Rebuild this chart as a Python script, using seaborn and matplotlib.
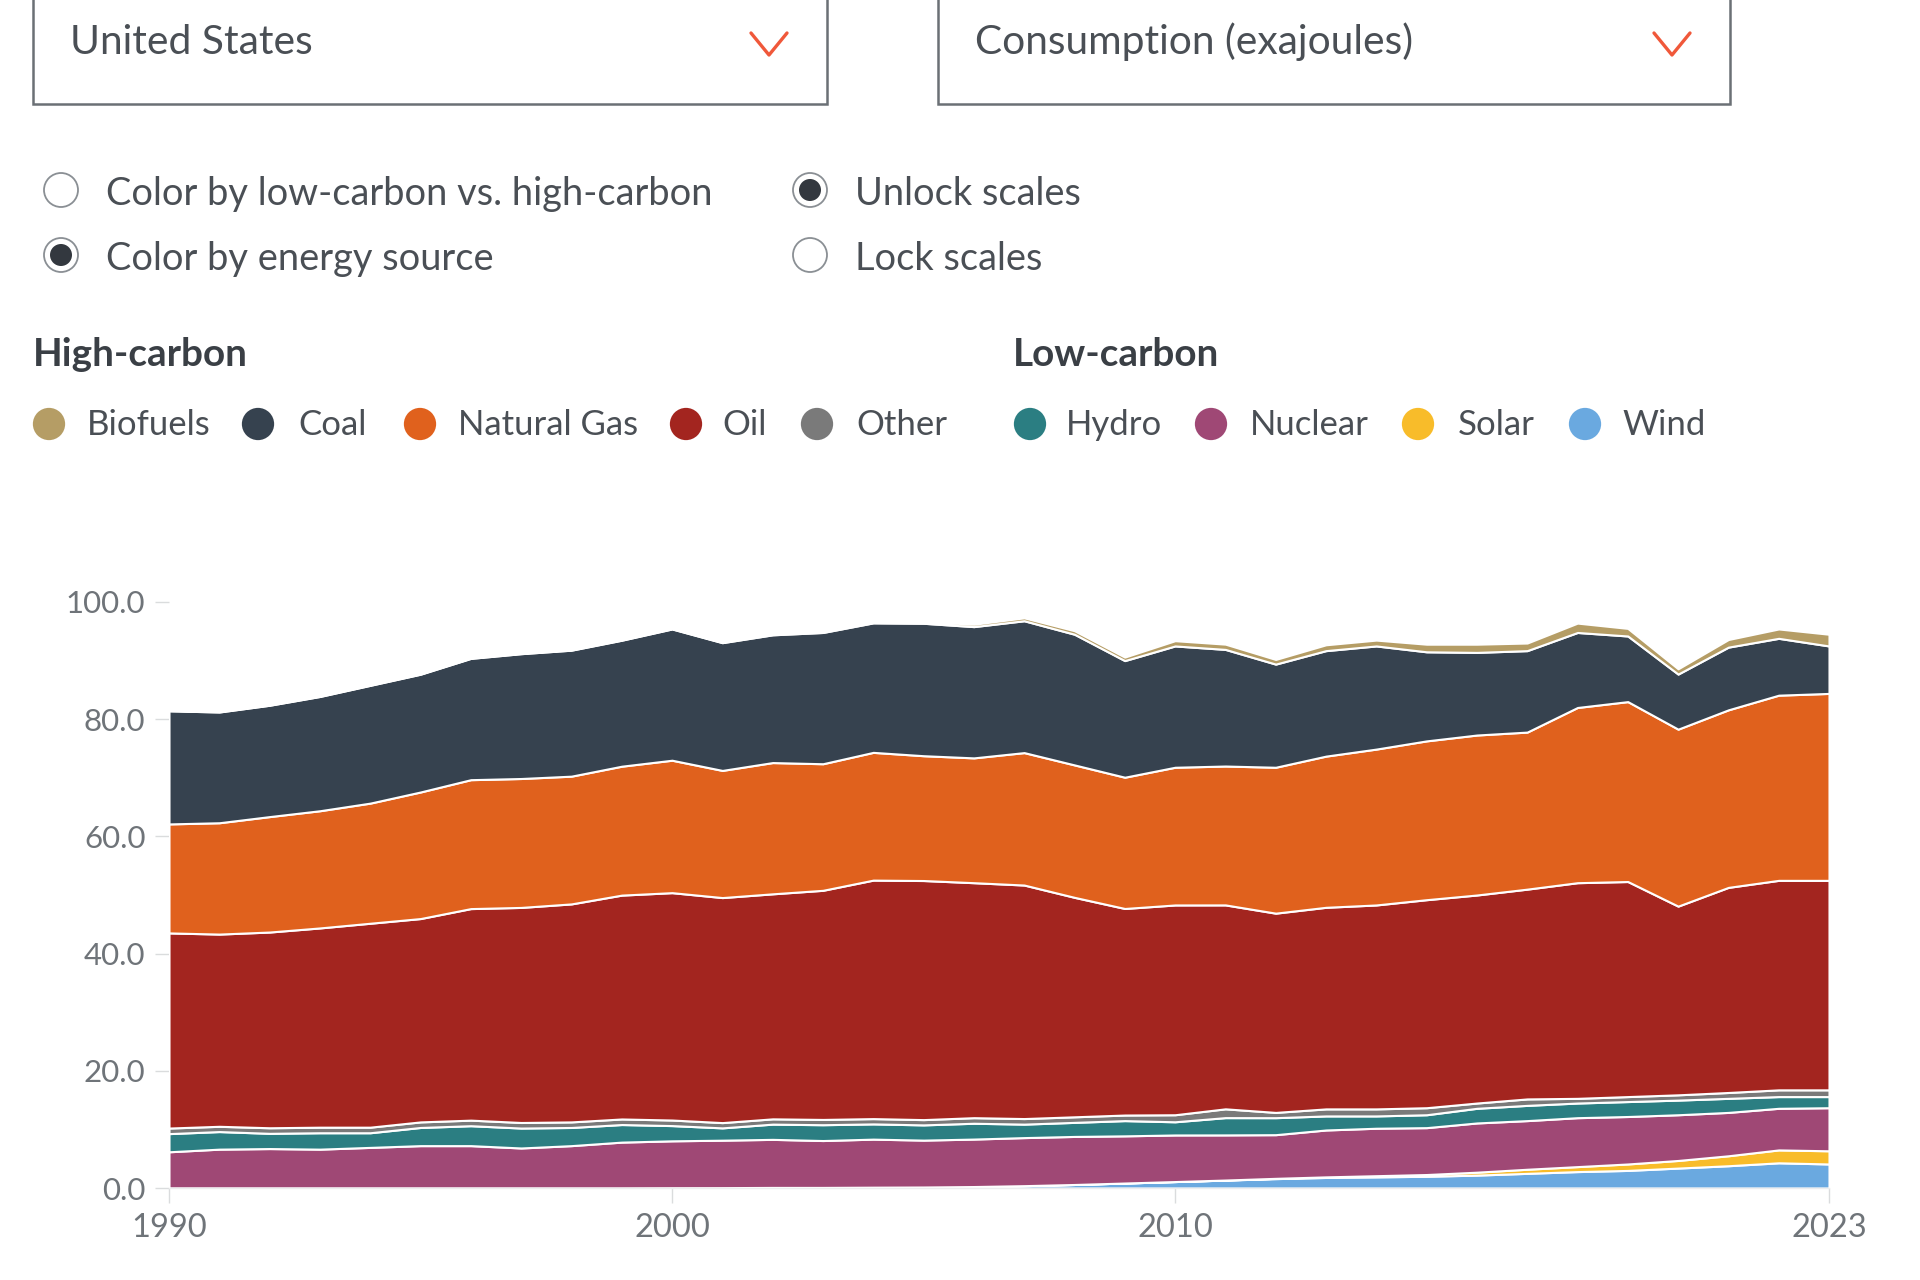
"""US energy consumption by source, stacked area with the dashboard controls above it."""

import matplotlib

matplotlib.use("Agg")

import matplotlib.pyplot as plt
import numpy as np
import seaborn as sns
from matplotlib.patches import Circle

YEARS = list(range(1990, 2024))

# Values in exajoules. Order is bottom of the stack first.
WIND = [0.03] * 10 + [0.05, 0.06, 0.1, 0.1, 0.14, 0.17, 0.25, 0.4, 0.6, 0.85,
                      1.1, 1.35, 1.6, 1.8, 1.9, 2.0, 2.2, 2.5, 2.8, 3.0, 3.4, 3.8, 4.3, 4.1]
SOLAR = [0.0] * 21 + [0.01, 0.05, 0.1, 0.2, 0.3, 0.5, 0.7, 0.85, 1.1, 1.3, 1.7, 2.2, 2.25]
NUCLEAR = [6.15, 6.6, 6.7, 6.6, 6.9, 7.2, 7.2, 6.8, 7.2, 7.8, 8.0, 8.1, 8.2, 8.0, 8.2, 8.0, 8.1,
           8.2, 8.2, 8.05, 7.95, 7.7, 7.45, 8.0, 8.1, 8.0, 8.4, 8.3, 8.35, 8.1, 7.8, 7.4, 7.1, 7.35]
HYDRO = [3.1, 3.0, 2.6, 2.8, 2.5, 3.1, 3.4, 3.4, 3.1, 3.0, 2.6, 2.1, 2.6, 2.7, 2.6, 2.6, 2.7,
         2.3, 2.4, 2.6, 2.25, 2.95, 2.9, 2.4, 2.1, 2.2, 2.5, 2.6, 2.5, 2.55, 2.5, 2.4, 2.0, 1.9]
OTHER = [0.95, 0.9, 0.95, 0.95, 0.95, 0.95, 0.95, 0.95, 0.95, 0.95, 0.95, 0.9, 0.9, 0.9, 0.9, 0.9,
         0.95, 0.95, 0.95, 0.95, 1.2, 1.5, 0.9, 1.2, 1.2, 1.2, 0.9, 1.1, 0.8, 0.85, 0.9, 1.0, 1.15, 1.15]
OIL = [33.3, 32.8, 33.4, 34.0, 34.8, 34.7, 36.1, 36.7, 37.2, 38.2, 38.8, 38.4, 38.4, 39.1, 40.7,
       40.8, 40.1, 39.85, 37.45, 35.25, 35.8, 34.8, 34.0, 34.4, 34.8, 35.5, 35.5, 35.8, 36.8, 36.7,
       32.2, 35.0, 35.75, 35.75]
NATURAL_GAS = [18.6, 19.0, 19.7, 20.0, 20.5, 21.6, 22.0, 22.0, 21.8, 22.0, 22.6, 21.7, 22.4, 21.6,
               21.8, 21.3, 21.3, 22.6, 22.6, 22.4, 23.5, 23.7, 24.9, 25.8, 26.6, 27.1, 27.3, 26.8,
               29.9, 30.7, 30.2, 30.3, 31.6, 31.9]
COAL = [19.3, 18.9, 19.0, 19.5, 20.1, 20.1, 20.7, 21.3, 21.5, 21.5, 22.4, 21.8, 21.8, 22.4, 22.1,
        22.6, 22.4, 22.5, 22.3, 19.9, 20.7, 19.9, 17.6, 18.0, 17.6, 15.2, 14.1, 13.9, 12.8, 11.2,
        9.4, 10.7, 9.7, 8.1]
BIOFUELS = [0.1] * 12 + [0.15, 0.2, 0.25, 0.3, 0.4, 0.5, 0.6, 0.6, 0.9, 0.9, 0.8, 1.0, 1.0, 1.3,
                         1.4, 1.3, 1.6, 1.3, 0.9, 1.3, 1.6, 2.0]

STACK = [WIND, SOLAR, NUCLEAR, HYDRO, OTHER, OIL, NATURAL_GAS, COAL, BIOFUELS]
STACK_COLORS = ["#6AA9E0", "#F8BC2A", "#9F4875", "#2B7E82", "#7A7A7A",
                "#A3251F", "#E0611D", "#36424F", "#B59D65"]

HIGH_CARBON = ["Biofuels", "Coal", "Natural Gas", "Oil", "Other"]
LOW_CARBON = ["Hydro", "Nuclear", "Solar", "Wind"]
SOURCE_COLORS = {
    "Biofuels": "#B59D65", "Coal": "#36424F", "Natural Gas": "#E0611D", "Oil": "#A3251F",
    "Other": "#7A7A7A", "Hydro": "#2B7E82", "Nuclear": "#9F4875", "Solar": "#F8BC2A",
    "Wind": "#6AA9E0",
}
DOT_X = [49, 258, 420, 686, 817, 1030, 1211, 1418, 1585]
LABEL_X = [87, 298, 458, 722, 856, 1066, 1250, 1458, 1622]

Y_TICKS = [0, 20, 40, 60, 80, 100]
X_TICKS = [1990, 2000, 2010, 2023]

TEXT = "#4A4F55"
TICK_TEXT = "#6F7479"
FONT = "Lato"

W, H = 1920, 1280


def draw_dropdown(ui, left, right, label, chevron_x):
    ui.plot([left, left, right, right], [-5, 104, 104, -5], color="#6B7075", lw=1.8, solid_joinstyle="miter")
    ui.text(left + 37, 42, label, fontsize=29.3, color=TEXT, va="center", ha="left")
    ui.plot([chevron_x, chevron_x + 18, chevron_x + 36], [33, 55, 33], color="#F0583A", lw=2.4)


def draw_radio(ui, x, y, label, selected=False):
    ui.add_patch(Circle((x, y), 17, facecolor="white", edgecolor="#8A8F94", lw=1.3))
    if selected:
        ui.add_patch(Circle((x, y), 11, facecolor="#33383F", edgecolor="none"))
    ui.text(x + 45, y + 4, label, fontsize=27.4, color=TEXT, va="center", ha="left")


def draw_controls(ui):
    draw_dropdown(ui, 33, 827, "United States", 751)
    draw_dropdown(ui, 938, 1730, "Consumption (exajoules)", 1654)

    draw_radio(ui, 61, 190, "Color by low-carbon vs. high-carbon")
    draw_radio(ui, 61, 255, "Color by energy source", selected=True)
    draw_radio(ui, 810, 190, "Unlock scales", selected=True)
    draw_radio(ui, 810, 255, "Lock scales")

    ui.text(33, 354, "High-carbon", fontsize=27.8, fontweight="bold", color="#3A3F45", va="center")
    ui.text(1013, 354, "Low-carbon", fontsize=27.8, fontweight="bold", color="#3A3F45", va="center")

    names = HIGH_CARBON + LOW_CARBON
    sns.scatterplot(x=DOT_X, y=[424] * len(names), hue=names, palette=SOURCE_COLORS,
                    s=540, linewidth=0, legend=False, ax=ui)
    for name, x in zip(names, LABEL_X):
        ui.text(x, 425, name, fontsize=25, color=TEXT, va="center", ha="left")
    ui.set_xlim(0, W)
    ui.set_ylim(H, 0)
    ui.axis("off")


def main():
    sns.set_theme(style="white")
    plt.rcParams["font.family"] = [FONT, "DejaVu Sans"]

    fig = plt.figure(figsize=(W / 100, H / 100), dpi=100, facecolor="white")

    ui = fig.add_axes([0, 0, 1, 1], facecolor="none")
    draw_controls(ui)

    # plot area in picture pixels: x 169-1829, y 602-1188
    ax = fig.add_axes([169 / W, 1 - 1188 / H, 1660 / W, 586 / H], facecolor="none")
    palette = sns.color_palette(STACK_COLORS)
    ax.stackplot(YEARS, np.array(STACK), colors=palette, edgecolor="white", linewidth=1.5)

    ax.set_xlim(YEARS[0], YEARS[-1])
    ax.set_ylim(0, 100)
    ax.set_xticks(X_TICKS)
    ax.set_yticks(Y_TICKS)
    ax.set_yticklabels([f"{v:.1f}" for v in Y_TICKS])
    ax.tick_params(axis="y", length=10, width=1, color="#DADCDD", pad=7, labelsize=22.5, labelcolor=TICK_TEXT)
    ax.tick_params(axis="x", length=11, width=1, color="#DADCDD", pad=7, labelsize=23.5, labelcolor=TICK_TEXT)
    ax.tick_params(left=True, bottom=True)
    sns.despine(ax=ax, left=True, top=True, right=True)
    ax.spines["bottom"].set_color("#ECEDEE")
    ax.spines["bottom"].set_linewidth(1)

    fig.savefig("out.png", dpi=100)
    plt.close(fig)


if __name__ == "__main__":
    main()
